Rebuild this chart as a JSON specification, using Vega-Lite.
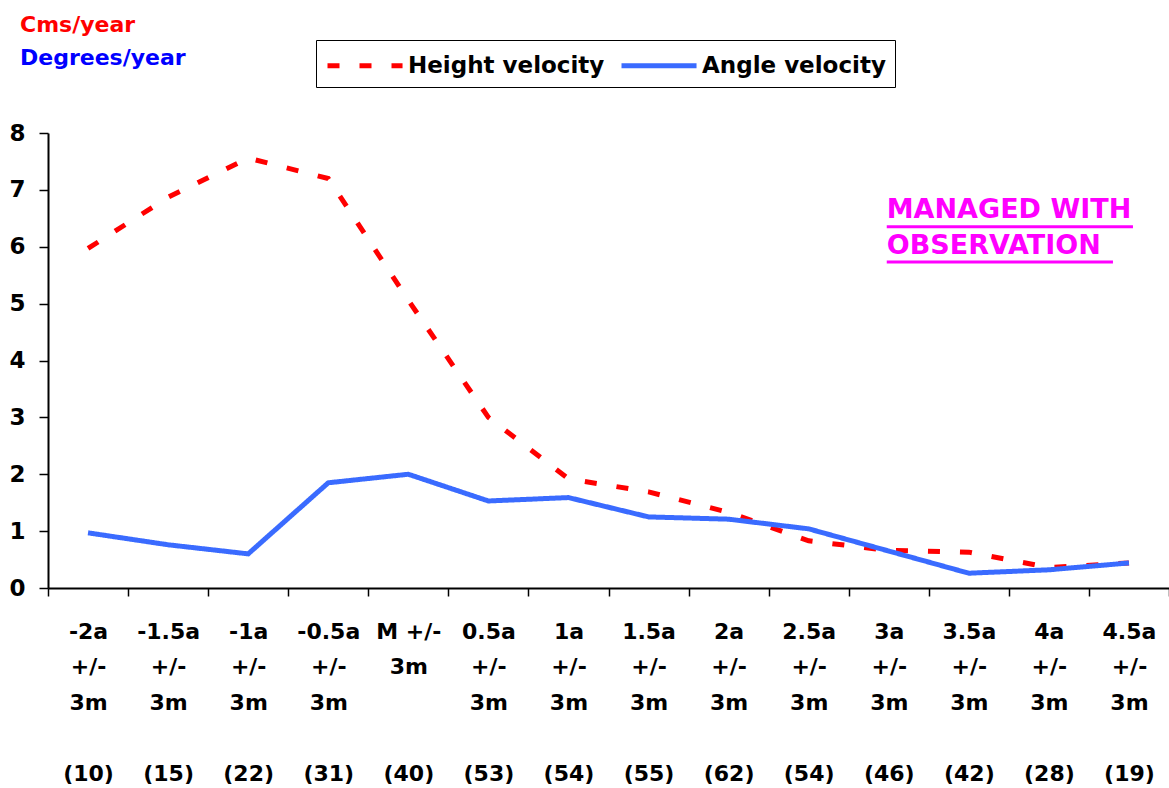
{
  "$schema": "https://vega.github.io/schema/vega-lite/v6.json",
  "width": 1121,
  "height": 455,
  "autosize": {"type": "none"},
  "padding": {"left": 48, "top": 133, "right": 0, "bottom": 200},
  "background": "white",
  "title": {
    "text": "Cms/year",
    "subtitle": "Degrees/year",
    "anchor": "start",
    "frame": "group",
    "dx": -28,
    "offset": -30,
    "color": "#ff0000",
    "subtitleColor": "#0000ff",
    "font": "DejaVu Sans",
    "subtitleFont": "DejaVu Sans",
    "fontSize": 22,
    "subtitleFontSize": 22,
    "fontWeight": "bold",
    "subtitleFontWeight": "bold",
    "subtitlePadding": 11
  },
  "datasets": {
    "series": [
      {"cat": "-2a|+/-|3m|\u2800|(10)", "series": "Height velocity", "v": 5.97},
      {"cat": "-1.5a|+/-|3m|\u2800|(15)", "series": "Height velocity", "v": 6.87},
      {"cat": "-1a|+/-|3m|\u2800|(22)", "series": "Height velocity", "v": 7.56},
      {"cat": "-0.5a|+/-|3m|\u2800|(31)", "series": "Height velocity", "v": 7.2},
      {"cat": "M +/-|3m|\u2800|\u2800|(40)", "series": "Height velocity", "v": 5.06},
      {"cat": "0.5a|+/-|3m|\u2800|(53)", "series": "Height velocity", "v": 3.0},
      {"cat": "1a|+/-|3m|\u2800|(54)", "series": "Height velocity", "v": 1.92},
      {"cat": "1.5a|+/-|3m|\u2800|(55)", "series": "Height velocity", "v": 1.69},
      {"cat": "2a|+/-|3m|\u2800|(62)", "series": "Height velocity", "v": 1.33},
      {"cat": "2.5a|+/-|3m|\u2800|(54)", "series": "Height velocity", "v": 0.83},
      {"cat": "3a|+/-|3m|\u2800|(46)", "series": "Height velocity", "v": 0.66},
      {"cat": "3.5a|+/-|3m|\u2800|(42)", "series": "Height velocity", "v": 0.63},
      {"cat": "4a|+/-|3m|\u2800|(28)", "series": "Height velocity", "v": 0.36},
      {"cat": "4.5a|+/-|3m|\u2800|(19)", "series": "Height velocity", "v": 0.44},
      {"cat": "-2a|+/-|3m|\u2800|(10)", "series": "Angle velocity", "v": 0.97},
      {"cat": "-1.5a|+/-|3m|\u2800|(15)", "series": "Angle velocity", "v": 0.76},
      {"cat": "-1a|+/-|3m|\u2800|(22)", "series": "Angle velocity", "v": 0.6},
      {"cat": "-0.5a|+/-|3m|\u2800|(31)", "series": "Angle velocity", "v": 1.85},
      {"cat": "M +/-|3m|\u2800|\u2800|(40)", "series": "Angle velocity", "v": 2.0},
      {"cat": "0.5a|+/-|3m|\u2800|(53)", "series": "Angle velocity", "v": 1.53},
      {"cat": "1a|+/-|3m|\u2800|(54)", "series": "Angle velocity", "v": 1.59},
      {"cat": "1.5a|+/-|3m|\u2800|(55)", "series": "Angle velocity", "v": 1.25},
      {"cat": "2a|+/-|3m|\u2800|(62)", "series": "Angle velocity", "v": 1.21},
      {"cat": "2.5a|+/-|3m|\u2800|(54)", "series": "Angle velocity", "v": 1.04},
      {"cat": "3a|+/-|3m|\u2800|(46)", "series": "Angle velocity", "v": 0.65},
      {"cat": "3.5a|+/-|3m|\u2800|(42)", "series": "Angle velocity", "v": 0.26},
      {"cat": "4a|+/-|3m|\u2800|(28)", "series": "Angle velocity", "v": 0.32},
      {"cat": "4.5a|+/-|3m|\u2800|(19)", "series": "Angle velocity", "v": 0.44}
    ]
  },
  "encoding": {
    "x": {
      "field": "cat",
      "type": "nominal",
      "scale": {
        "type": "band",
        "paddingInner": 0,
        "paddingOuter": 0,
        "domain": ["-2a|+/-|3m|\u2800|(10)", "-1.5a|+/-|3m|\u2800|(15)", "-1a|+/-|3m|\u2800|(22)", "-0.5a|+/-|3m|\u2800|(31)", "M +/-|3m|\u2800|\u2800|(40)", "0.5a|+/-|3m|\u2800|(53)", "1a|+/-|3m|\u2800|(54)", "1.5a|+/-|3m|\u2800|(55)", "2a|+/-|3m|\u2800|(62)", "2.5a|+/-|3m|\u2800|(54)", "3a|+/-|3m|\u2800|(46)", "3.5a|+/-|3m|\u2800|(42)", "4a|+/-|3m|\u2800|(28)", "4.5a|+/-|3m|\u2800|(19)"]
      },
      "axis": {
        "title": null,
        "labelAngle": 0,
        "labelExpr": "split(datum.label, '|')",
        "labelFont": "DejaVu Sans",
        "labelFontSize": 22,
        "labelFontWeight": "bold",
        "labelColor": "black",
        "labelLineHeight": 35.5,
        "labelBaseline": "top",
        "labelPadding": 25,
        "labelLimit": 0,
        "tickBand": "extent",
        "tickSize": 8,
        "tickColor": "black",
        "tickWidth": 1.5,
        "domainColor": "black",
        "domainWidth": 2,
        "grid": false
      }
    }
  },
  "layer": [
    {
      "data": {"name": "series"},
      "mark": {"type": "line", "strokeWidth": 5, "strokeCap": "butt", "strokeJoin": "miter"},
      "encoding": {
        "y": {
          "field": "v",
          "type": "quantitative",
          "scale": {"domain": [0, 8], "nice": false, "zero": true},
          "axis": {
            "title": null,
            "values": [0, 1, 2, 3, 4, 5, 6, 7, 8],
            "format": "d",
            "labelFont": "DejaVu Sans",
            "labelFontSize": 23,
            "labelFontWeight": "bold",
            "labelColor": "black",
            "labelPadding": 14,
            "tickSize": 9,
            "tickColor": "black",
            "tickWidth": 1.5,
            "domainColor": "black",
            "domainWidth": 2,
            "grid": false
          }
        },
        "color": {
          "field": "series",
          "type": "nominal",
          "scale": {"domain": ["Height velocity", "Angle velocity"], "range": ["#ff0000", "#3a6bff"]},
          "legend": {
            "orient": "none",
            "legendX": 268,
            "legendY": -93,
            "direction": "horizontal",
            "title": null,
            "strokeColor": "black",
            "fillColor": "white",
            "padding": 9,
            "symbolType": "M-1,0H4.36",
            "symbolSize": 784,
            "symbolStrokeWidth": 5,
            "labelFont": "DejaVu Sans",
            "labelFontSize": 23,
            "labelFontWeight": "bold",
            "labelColor": "black",
            "labelLimit": 0,
            "labelOffset": 50,
            "columnPadding": 6
          }
        },
        "strokeDash": {
          "field": "series",
          "type": "nominal",
          "scale": {"domain": ["Height velocity", "Angle velocity"], "range": [[12, 20], [1, 0]]},
          "legend": {
            "orient": "none",
            "legendX": 268,
            "legendY": -93,
            "direction": "horizontal",
            "title": null,
            "strokeColor": "black",
            "fillColor": "white",
            "padding": 9,
            "symbolType": "M-1,0H4.36",
            "symbolSize": 784,
            "symbolStrokeWidth": 5,
            "labelFont": "DejaVu Sans",
            "labelFontSize": 23,
            "labelFontWeight": "bold",
            "labelColor": "black",
            "labelLimit": 0,
            "labelOffset": 50,
            "columnPadding": 6
          }
        }
      }
    },
    {
      "data": {"values": [{"cat": "3a|+/-|3m|\u2800|(46)", "v": 6.5, "t": "MANAGED WITH\nOBSERVATION"}]},
      "mark": {"type": "text", "align": "left", "baseline": "alphabetic", "dx": -2, "font": "DejaVu Sans", "fontSize": 27, "fontWeight": "bold", "color": "#ff00ff", "lineBreak": "\n", "lineHeight": 36},
      "encoding": {
        "y": {"field": "v", "type": "quantitative"},
        "text": {"field": "t"}
      }
    },
    {
      "data": {"values": [{"cat": "3a|+/-|3m|\u2800|(46)", "cat2": "4.5a|+/-|3m|\u2800|(19)", "v": 6.35}]},
      "mark": {"type": "rule", "color": "#ff00ff", "strokeWidth": 3, "xOffset": -2, "x2Offset": 4},
      "encoding": {
        "y": {"field": "v", "type": "quantitative"},
        "x2": {"field": "cat2"}
      }
    },
    {
      "data": {"values": [{"cat": "3a|+/-|3m|\u2800|(46)", "cat2": "4.5a|+/-|3m|\u2800|(19)", "v": 5.73}]},
      "mark": {"type": "rule", "color": "#ff00ff", "strokeWidth": 3, "xOffset": -2, "x2Offset": -16},
      "encoding": {
        "y": {"field": "v", "type": "quantitative"},
        "x2": {"field": "cat2"}
      }
    }
  ],
  "config": {
    "view": {"stroke": null},
    "font": "DejaVu Sans"
  }
}
